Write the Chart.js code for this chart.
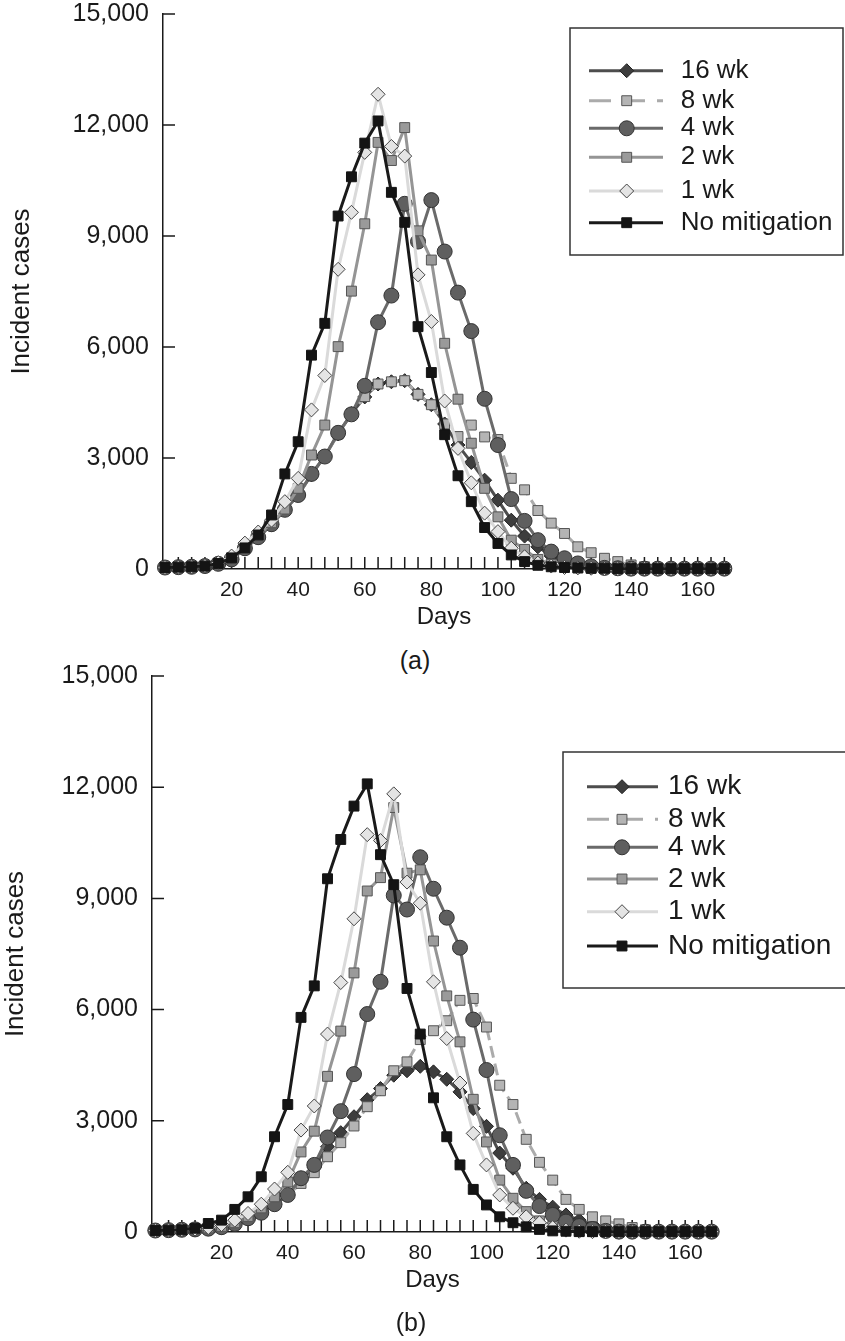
<!DOCTYPE html>
<html>
<head>
<meta charset="utf-8">
<script src="https://cdn.jsdelivr.net/npm/chart.js@4.4.0/dist/chart.umd.min.js"></script>
<style>
  body { margin: 0; background: #fff; }
  #page { position: relative; width: 845px; height: 1341px; overflow: hidden; background: #fff;
          font-family: "Liberation Sans", Arial, sans-serif; color: #1a1a1a; }
  canvas { position: absolute; left: 0; }
  .tag { position: absolute; width: 60px; text-align: center; font-size: 25px; line-height: 28px; }
</style>
</head>
<body>
<div id="page">
  <canvas id="chartA" width="845" height="640" style="top:0"></canvas>
  <div class="tag" style="left:385px; top:646px">(a)</div>
  <canvas id="chartB" width="845" height="660" style="top:650px"></canvas>
  <div class="tag" style="left:381px; top:1308px">(b)</div>
</div>
<script>
// days 0..168, one point every 4 days
const days = [0, 4, 8, 12, 16, 20, 24, 28, 32, 36,
  40, 44, 48, 52, 56, 60, 64, 68, 72, 76,
  80, 84, 88, 92, 96, 100, 104, 108, 112, 116,
  120, 124, 128, 132, 136, 140, 144, 148, 152, 156,
  160, 164, 168];
const seriesNames = ['16 wk', '8 wk', '4 wk', '2 wk', '1 wk', 'No mitigation'];
const yTicks = [0, 3000, 6000, 9000, 12000, 15000];
const xLabels = [20, 40, 60, 80, 100, 120, 140, 160];

// panel (a)
const wk16A = [40, 50, 60, 80, 140, 260, 550, 850, 1200, 1600,
  2000, 2550, 3050, 3650, 4200, 4650, 5000, 5060, 5090, 4720,
  4440, 3920, 3350, 2880, 2400, 1860, 1320, 890, 600, 350,
  180, 80, 30, 20, 10, 10, 10, 10, 10, 10,
  10, 10, 10];
const wk8A = [40, 50, 60, 80, 140, 260, 550, 850, 1200, 1600,
  2000, 2550, 3050, 3650, 4200, 4660, 5000, 5060, 5090, 4720,
  4440, 3920, 3580, 3890, 3570, 3500, 2450, 2140, 1580, 1240,
  960, 600, 440, 290, 200, 110, 60, 30, 20, 10,
  10, 10, 10];
const wk4A = [40, 50, 60, 80, 140, 260, 560, 860, 1210, 1600,
  2000, 2570, 3040, 3680, 4180, 4950, 6670, 7390, 9870, 8850,
  9970, 8580, 7470, 6430, 4600, 3350, 1890, 1300, 780, 470,
  290, 150, 70, 30, 20, 10, 10, 10, 10, 10,
  10, 10, 10];
const wk2A = [40, 50, 60, 90, 150, 300, 600, 900, 1250, 1620,
  2180, 3080, 3890, 6010, 7510, 9330, 11530, 11040, 11930, 9140,
  8350, 6100, 4590, 3400, 2180, 1410, 780, 530, 260, 130,
  70, 30, 20, 10, 10, 10, 10, 10, 10, 10,
  10, 10, 10];
const wk1A = [40, 50, 60, 90, 170, 350, 700, 1000, 1320, 1820,
  2450, 4300, 5230, 8100, 9640, 11260, 12830, 11420, 11160, 7950,
  6690, 4540, 3260, 2330, 1510, 1010, 560, 330, 160, 80,
  40, 30, 20, 10, 10, 10, 10, 10, 10, 10,
  10, 10, 10];
const noMitA = [40, 50, 60, 80, 150, 300, 570, 920, 1460, 2570,
  3440, 5780, 6640, 9540, 10600, 11510, 12110, 10180, 9370, 6550,
  5310, 3630, 2520, 1820, 1120, 690, 380, 200, 100, 60,
  40, 30, 20, 20, 10, 10, 10, 10, 10, 10,
  10, 10, 10];

// panel (b)
const wk16B = [40, 50, 60, 70, 90, 120, 220, 360, 520, 750,
  1000, 1400, 1750, 2300, 2680, 3110, 3570, 3870, 4230, 4350,
  4470, 4320, 4120, 3780, 3330, 2850, 2130, 1720, 1180, 880,
  670, 460, 320, 200, 120, 60, 30, 10, 10, 10,
  10, 10, 10];
const wk8B = [40, 50, 60, 70, 90, 110, 200, 350, 520, 750,
  1000, 1310, 1600, 2030, 2410, 2860, 3380, 3810, 4350, 4590,
  5190, 5430, 5700, 6250, 6300, 5530, 3960, 3440, 2500, 1880,
  1400, 880, 610, 410, 300, 220, 120, 60, 20, 10,
  10, 10, 10];
const wk4B = [40, 50, 60, 70, 90, 130, 220, 370, 520, 750,
  1000, 1450, 1810, 2550, 3260, 4260, 5880, 6750, 9080, 8700,
  10110, 9260, 8480, 7670, 5730, 4370, 2610, 1810, 1110, 700,
  460, 280, 160, 80, 30, 10, 10, 10, 10, 10,
  10, 10, 10];
const wk2B = [40, 50, 60, 80, 110, 150, 250, 420, 650, 950,
  1350, 2160, 2720, 4200, 5420, 6990, 9200, 9560, 11450, 9680,
  9770, 7850, 6370, 5130, 3580, 2430, 1400, 910, 550, 300,
  150, 60, 20, 10, 10, 10, 10, 10, 10, 10,
  10, 10, 10];
const wk1B = [40, 50, 60, 80, 120, 200, 320, 500, 750, 1160,
  1610, 2750, 3400, 5340, 6730, 8450, 10720, 10560, 11820, 9440,
  8870, 6750, 5220, 4020, 2660, 1810, 1000, 640, 410, 250,
  120, 50, 20, 10, 10, 10, 10, 10, 10, 10,
  10, 10, 10];
const noMitB = [40, 50, 60, 100, 230, 320, 610, 950, 1490, 2570,
  3440, 5790, 6640, 9530, 10590, 11490, 12090, 10180, 9370, 6570,
  5340, 3620, 2570, 1810, 1150, 730, 410, 250, 140, 70,
  30, 20, 10, 10, 10, 10, 10, 10, 10, 10,
  10, 10, 10];

const FONT = '"Liberation Sans", Arial, sans-serif';
const INK = '#1a1a1a';

// line / marker look of each series, same order as seriesNames
const looks = [
  { line: '#4d4d4d', fill: '#3d3d3d', edge: '#222', shape: 'rectRot', r: 7, dash: [] },
  { line: '#ababab', fill: '#b4b4b4', edge: '#555', shape: 'rect', r: 7, dash: [12, 6] },
  { line: '#6a6a6a', fill: '#5f5f5f', edge: '#333', shape: 'circle', r: 7.5, dash: [] },
  { line: '#959595', fill: '#9a9a9a', edge: '#555', shape: 'rect', r: 7, dash: [] },
  { line: '#dadada', fill: '#e4e4e4', edge: '#444', shape: 'rectRot', r: 7, dash: [] },
  { line: '#1a1a1a', fill: '#141414', edge: '#141414', shape: 'rect', r: 7, dash: [] }
];

function makeDatasets(seriesList) {
  return seriesList.map((vals, i) => ({
    label: seriesNames[i],
    data: days.map((d, k) => ({ x: d, y: vals[k] })),
    borderColor: looks[i].line,
    borderWidth: 3,
    borderDash: looks[i].dash,
    pointStyle: looks[i].shape,
    pointRadius: looks[i].r,
    pointBackgroundColor: looks[i].fill,
    pointBorderColor: looks[i].edge,
    pointBorderWidth: 1,
    tension: 0,
    clip: false,
    order: seriesNames.length - 1 - i // "No mitigation" ends up on top
  }));
}

// little inward tick marks on both axes
const axisTicks = {
  id: 'axisTicks',
  beforeDatasetsDraw(chart) {
    const { ctx, chartArea: a, scales: { x, y } } = chart;
    ctx.save();
    ctx.strokeStyle = INK;
    ctx.lineWidth = 1.5;
    ctx.beginPath();
    x.ticks.forEach(t => {
      const px = x.getPixelForValue(t.value);
      ctx.moveTo(px, a.bottom);
      ctx.lineTo(px, a.bottom - 12);
    });
    y.ticks.forEach(t => {
      if (t.value === 0) return;
      const py = y.getPixelForValue(t.value);
      ctx.moveTo(a.left, py);
      ctx.lineTo(a.left + 12, py);
    });
    ctx.stroke();
    ctx.restore();
  }
};

// boxed legend with a line sample and marker per series
const boxLegend = {
  id: 'boxLegend',
  afterDraw(chart, args, opts) {
    const ctx = chart.ctx;
    ctx.save();
    ctx.strokeStyle = '#333';
    ctx.lineWidth = 1.5;
    ctx.strokeRect(opts.box[0], opts.box[1], opts.box[2], opts.box[3]);
    chart.data.datasets.forEach((ds, i) => {
      const yy = opts.rows[i];
      ctx.save();
      ctx.strokeStyle = ds.borderColor;
      ctx.lineWidth = 3;
      ctx.setLineDash(ds.borderDash.length ? [22, 12] : []);
      ctx.beginPath();
      ctx.moveTo(opts.line[0], yy);
      ctx.lineTo(opts.line[1], yy);
      ctx.stroke();
      ctx.restore();
      ctx.fillStyle = ds.pointBackgroundColor;
      ctx.strokeStyle = ds.pointBorderColor;
      ctx.lineWidth = 1;
      Chart.helpers.drawPoint(ctx, { pointStyle: ds.pointStyle, radius: ds.pointRadius, rotation: 0, borderWidth: 1 }, opts.mark, yy);
      ctx.fillStyle = INK;
      ctx.font = opts.size + 'px ' + FONT;
      ctx.textBaseline = 'middle';
      ctx.textAlign = 'left';
      ctx.fillText(ds.label, opts.text, yy);
    });
    ctx.restore();
  }
};

function makeChart(id, seriesList, geo) {
  return new Chart(document.getElementById(id), {
    type: 'line',
    data: { datasets: makeDatasets(seriesList) },
    options: {
      responsive: false,
      animation: false,
      devicePixelRatio: 1,
      layout: { padding: geo.pad },
      plugins: {
        legend: { display: false },
        tooltip: { enabled: false },
        boxLegend: geo.legend
      },
      scales: {
        x: {
          type: 'linear',
          min: geo.xMin,
          max: geo.xMax,
          afterBuildTicks: s => { s.ticks = days.filter(d => d > 0).map(v => ({ value: v })); },
          afterFit: s => { s.height = 66; s.paddingLeft = 0; s.paddingRight = 0; },
          grid: { display: false, drawTicks: false },
          border: { display: true, color: INK, width: 1.5 },
          ticks: {
            autoSkip: false, maxRotation: 0, padding: 9, color: INK,
            font: { family: FONT, size: 21 },
            callback: v => xLabels.includes(v) ? String(v) : ''
          },
          title: { display: true, text: 'Days', color: INK, font: { family: FONT, size: 24 }, padding: { top: 0, bottom: 3 } }
        },
        y: {
          min: 0,
          max: 15000,
          afterBuildTicks: s => { s.ticks = yTicks.map(v => ({ value: v })); },
          afterFit: s => { s.width = geo.yWidth; s.paddingTop = 0; s.paddingBottom = 0; },
          grid: { display: false, drawTicks: false },
          border: { display: true, color: INK, width: 1.5 },
          ticks: {
            padding: 14, color: INK,
            font: { family: FONT, size: 25 },
            callback: v => v.toLocaleString('en-US')
          },
          title: { display: true, text: 'Incident cases', color: INK, font: { family: FONT, size: 26 }, padding: { top: geo.yTitlePad, bottom: 0 } }
        }
      }
    },
    plugins: [axisTicks, boxLegend]
  });
}

makeChart('chartA', [wk16A, wk8A, wk4A, wk2A, wk1A, noMitA], {
  pad: { left: 0, top: 14, right: 120, bottom: 5 },
  yWidth: 163, xMin: -0.6, xMax: 168.2, yTitlePad: 6,
  legend: { box: [570, 28, 273, 227], rows: [70.7, 100.7, 128.3, 157.3, 191, 222.7], line: [589, 663], mark: 626.7, text: 680.7, size: 26 }
});

makeChart('chartB', [wk16B, wk8B, wk4B, wk2B, wk1B, noMitB], {
  pad: { left: 0, top: 26, right: 132, bottom: 12 },
  yWidth: 152, xMin: -1.0, xMax: 168.4, yTitlePad: 0,
  legend: { box: [563, 102, 300, 236], rows: [136.7, 169.3, 197.3, 229, 261.7, 296], line: [587, 658], mark: 622, text: 668, size: 28 }
});
</script>
</body>
</html>
